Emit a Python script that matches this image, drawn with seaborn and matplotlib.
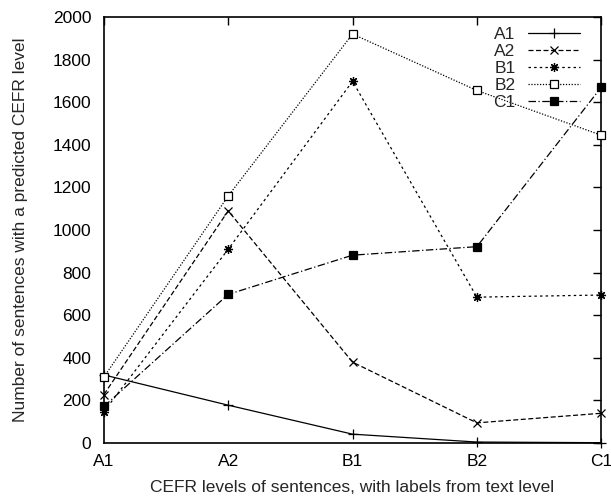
import pandas as pd
import seaborn as sns
import matplotlib
matplotlib.use("Agg")
import matplotlib.pyplot as plt

sns.set_style("white")
plt.rcParams['font.family'] = ['Liberation Sans', 'DejaVu Sans']

levels = ["A1", "A2", "B1", "B2", "C1"]
a1 = [320, 178, 42, 5, 2]
a2 = [228, 1090, 380, 95, 140]
b1 = [148, 910, 1698, 685, 695]
b2 = [310, 1160, 1920, 1655, 1445]
c1 = [172, 698, 882, 922, 1670]

series = {"A1": a1, "A2": a2, "B1": b1, "B2": b2, "C1": c1}
styles = {
    "A1": dict(ls="-", marker="+", ms=7, mfc="black"),
    "A2": dict(ls=(0, (4, 2)), marker="x", ms=5.5, mfc="black"),
    "B1": dict(ls=(0, (2, 2.5)), marker=(8, 2, 0), ms=6.5, mfc="black"),
    "B2": dict(ls=(0, (1, 1.3)), marker="s", ms=5.5, mfc="white"),
    "C1": dict(ls=(0, (6, 2, 1, 2)), marker="s", ms=6, mfc="black"),
}

fig = plt.figure(figsize=(6.11, 4.99), dpi=100)
ax = fig.add_axes([0.170, 0.112, 0.814, 0.854])

x = list(range(len(levels)))
for name, vals in series.items():
    st = styles[name]
    sns.lineplot(x=x, y=vals, ax=ax, color="black", linewidth=0.9,
                 linestyle=st["ls"], marker=st["marker"], markersize=st["ms"],
                 markerfacecolor=st["mfc"], markeredgecolor="black",
                 markeredgewidth=0.9, label=name, clip_on=False, zorder=3)

ax.set_xlim(0, 4)
ax.set_ylim(0, 2000)
ax.set_xticks(x)
ax.set_xticklabels(levels)
ax.set_yticks(range(0, 2001, 200))
ax.tick_params(direction="in", top=True, right=True, length=6, width=1,
               labelsize=12.5, colors="black")
ax.tick_params(axis="x", pad=8)
ax.tick_params(axis="y", pad=9)
for sp in ax.spines.values():
    sp.set_color("black")
    sp.set_linewidth(1.2)

ax.set_xlabel("CEFR levels of sentences, with labels from text level", fontsize=12.5, labelpad=8)
ax.set_ylabel("Number of sentences with a predicted CEFR level", fontsize=12.5, labelpad=18)

leg = ax.legend(loc="upper right", bbox_to_anchor=(0.964, 0.984), borderaxespad=0,
                frameon=False, markerfirst=False, fontsize=12.5,
                handlelength=3.0, labelspacing=0.1, handletextpad=0.7, borderpad=0.2)

fig.savefig("out.png", dpi=100)
